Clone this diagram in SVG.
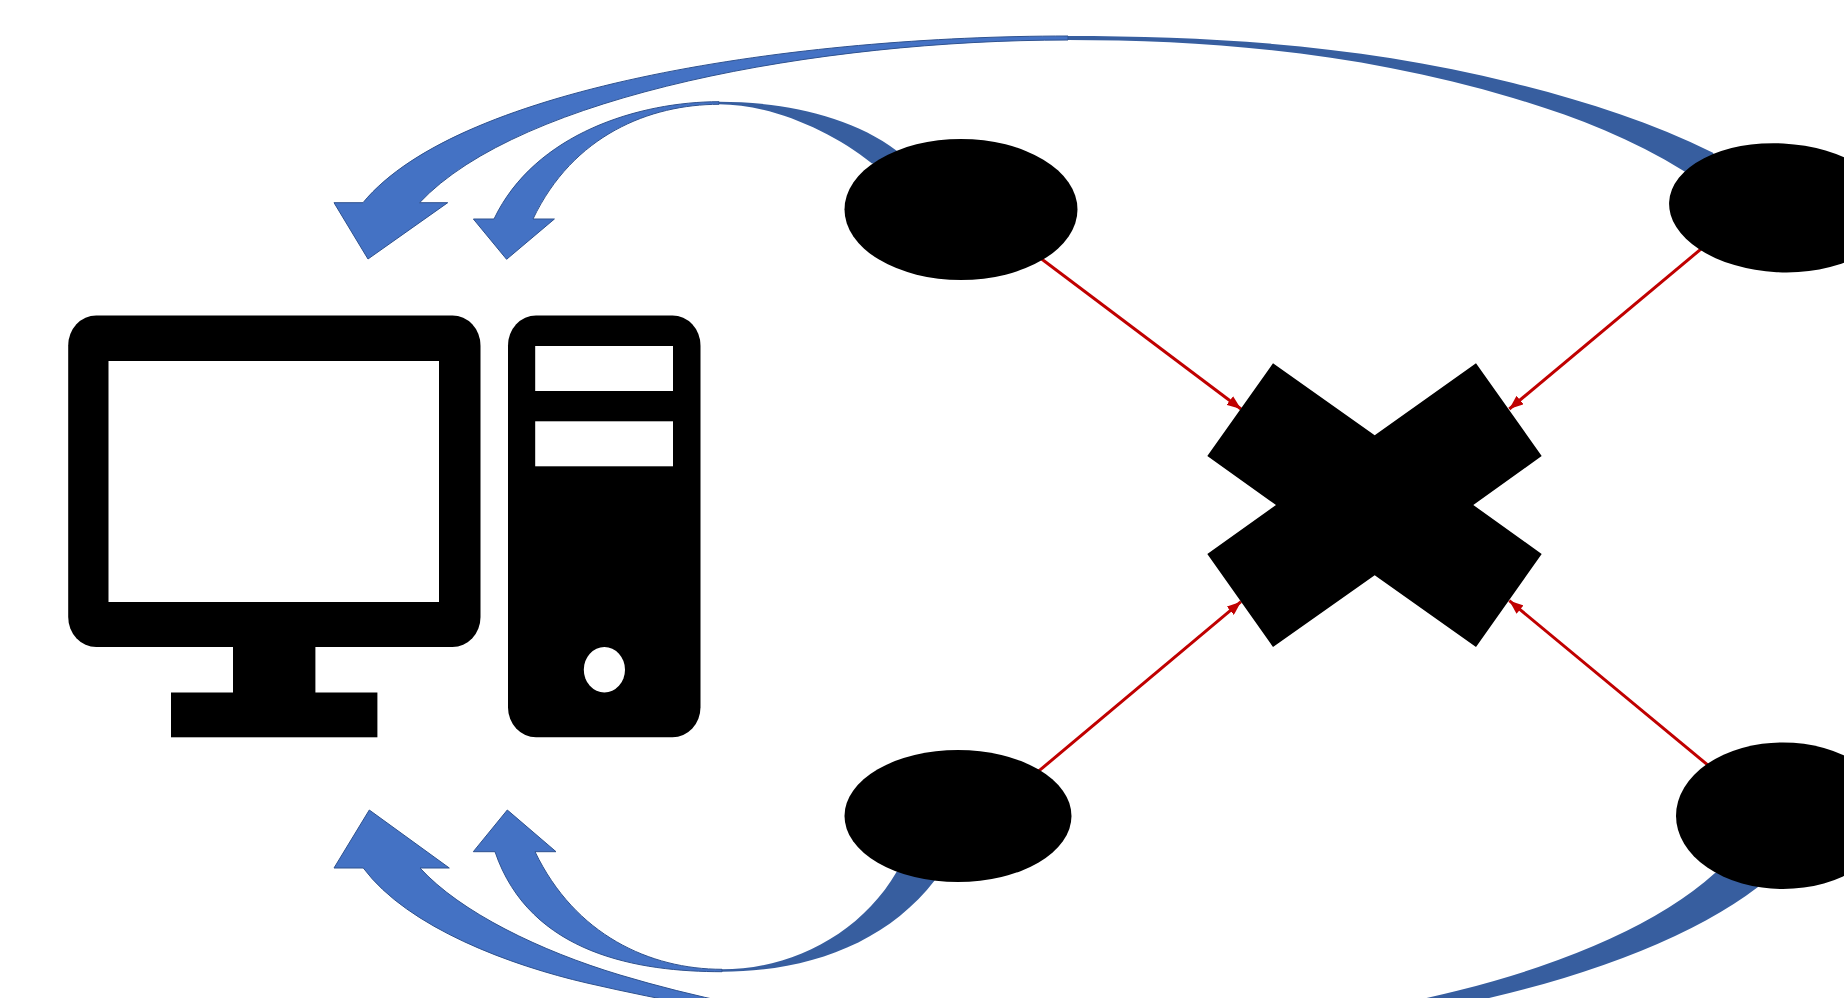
<svg xmlns="http://www.w3.org/2000/svg" width="1844" height="998" viewBox="0 0 1844 998">
<style>
.k{fill:#000}
.w{fill:#fff}
.front{fill:#4472C4;stroke:#2F528F;stroke-width:1}
.back{fill:#375E9F}
.red{stroke:#C00000;stroke-width:3;fill:none;marker-end:url(#ah)}
</style>
<defs>
<marker id="ah" viewBox="0 0 14 11" refX="14" refY="5.5" markerWidth="14" markerHeight="11" markerUnits="userSpaceOnUse" orient="auto"><path d="M0 0L14 5.5L0 11Z" fill="#C00000"/></marker>
</defs>
<rect width="1844" height="998" fill="#fff"/>
<g id="connectors">
<g id="curved-arrows">
<path class="back" d="M1068 36C1218 36 1365 46 1513 83C1580 99.8 1650 121.2 1713 152.7L1730 190L1685 171.7C1628 136.4 1570 115.1 1513 98C1365 53.6 1216 40 1068 40Z"/>
<path class="front" d="M1068 36C800 36 460 85 363 202.7L334 202.7L368 259L447.7 202.7L419.6 202.7C520 95 820 40 1068 40Z"/>
<path class="back" d="M719 101.7C780 101.7 850 115 896.7 150.7L910 175L871.7 163.3C830 130 770 104.3 719 104.3Z"/>
<path class="front" d="M719 101.7C640 101.7 535 133 494 219L473.4 219L506.6 259.3L554.4 219L533 219C573 135 650 104.3 719 104.3Z"/>
<path class="back" d="M722 969.3C790 969.3 860 935 896.7 871.7L920 860L935 880C885 945 805 971.7 722 971.7Z"/>
<path class="front" d="M722 971.7C640 971.7 530 955 495 851.7L473.3 851.7L507.3 810L556 851.7L535 851.7C575 935 650 969.3 722 969.3Z"/>
<path class="back" d="M1068 1035A700 262 0 0 0 1715 873L1760 860L1758 887A760 269 0 0 1 1068 1043Z"/>
<path class="front" d="M1068 1039C900 1039 747 1019.8 587 983C512 965.7 408 928 363.3 868L334 868L369.3 810L449.3 868L420 868C460 912 540 951 620 975C770 1020 920 1035 1068 1035Z"/>
</g>
<g id="red-arrows">
<line class="red" x1="1035" y1="254" x2="1241" y2="409"/>
<line class="red" x1="1710" y1="241.5" x2="1509.3" y2="409"/>
<line class="red" x1="1032" y1="776.7" x2="1241" y2="601.7"/>
<line class="red" x1="1715" y1="771" x2="1509.3" y2="600.7"/>
</g>
</g>
<g id="computer-monitor">
<rect class="k" x="68.2" y="315.5" width="412.3" height="331.5" rx="28" ry="30"/>
<rect class="w" x="108.5" y="361" width="330.5" height="241"/>
<rect class="k" x="233" y="640" width="82.4" height="60"/>
<rect class="k" x="171" y="692.5" width="206.4" height="44.8"/>
</g>
<g id="computer-tower">
<rect class="k" x="508" y="315.5" width="192.5" height="421.8" rx="28" ry="30"/>
<rect class="w" x="535.2" y="346" width="137.8" height="45"/>
<rect class="w" x="535.2" y="421.3" width="137.8" height="45"/>
<ellipse class="w" cx="604.4" cy="669.7" rx="20.6" ry="22.7"/>
</g>
<g id="node-top-left"><ellipse class="k" cx="961" cy="209.5" rx="116.5" ry="70.5"/></g>
<g id="node-top-right"><ellipse class="k" cx="1780" cy="207.8" rx="111" ry="64.5" transform="rotate(3 1780 207.8)"/></g>
<g id="node-bottom-left"><ellipse class="k" cx="958" cy="816" rx="113.5" ry="66"/></g>
<g id="node-bottom-right"><ellipse class="k" cx="1783" cy="815.7" rx="107" ry="73.3"/></g>
<g id="node-cross"><polygon class="k" points="1273,363.3 1374.7,435.3 1476,363.3 1541.7,456 1473.3,505 1541.7,554 1476,647 1374.7,575.3 1273,647 1207.3,554 1276,505 1207.3,456"/></g>
</svg>
